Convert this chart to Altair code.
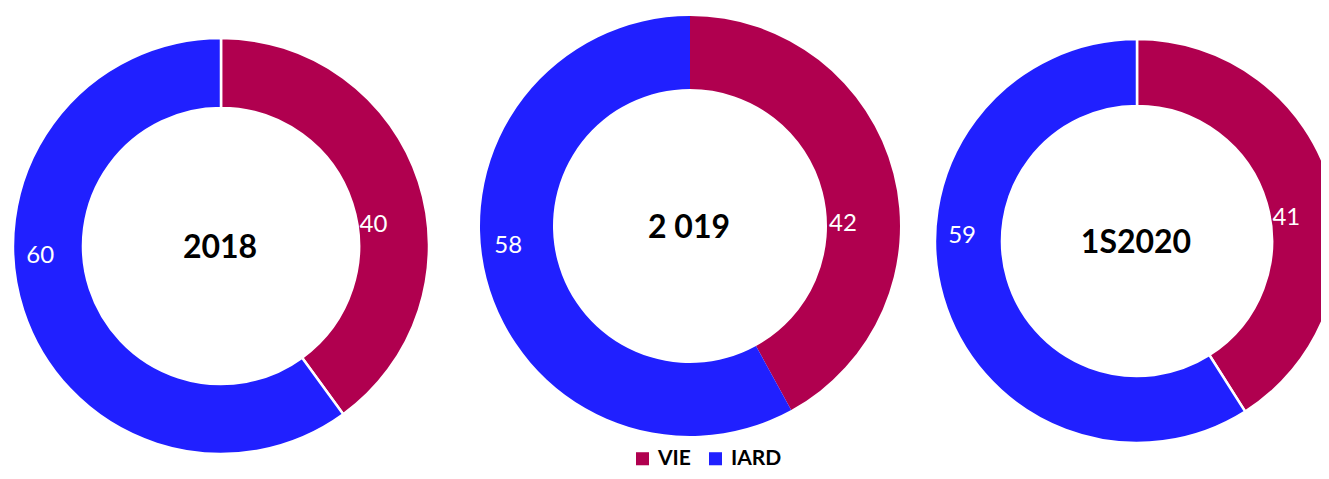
import altair as alt
import pandas as pd

years = ["2018", "2 019", "1S2020"]
categories = ["VIE", "IARD"]
vie = [40, 42, 41]
iard = [60, 58, 59]
colors = ["#B0004F", "#2020FF"]

rows = []
for y, v, i in zip(years, vie, iard):
    rows.append({"year": y, "series": "VIE", "value": v, "order": 0})
    rows.append({"year": y, "series": "IARD", "value": i, "order": 1})
df = pd.DataFrame(rows)
centers_df = pd.DataFrame({"year": years})

# layout of each donut (centre, radii, separator width, label angle shifts)
layout = [
    dict(cx=213, cy=238, outer=208, inner=138, sw=2.5, off={"VIE": 0.175, "IARD": 0.26}),
    dict(cx=682, cy=218, outer=210, inner=137, sw=0, off={"VIE": 0.237, "IARD": 0.14}),
    dict(cx=1129, cy=233, outer=202, inner=135, sw=2.5, off={"VIE": 0.133, "IARD": 0.314}),
]

color = alt.Color(
    "series:N",
    scale=alt.Scale(domain=categories, range=colors),
    sort=categories,
    legend=alt.Legend(
        title=None, orient="none", direction="horizontal",
        legendX=624, legendY=440, symbolType="square", symbolSize=170,
        symbolStrokeWidth=0, labelFont="Lato", labelFontSize=21,
        labelFontWeight="bold", labelColor="#000000", columnPadding=14,
        symbolOffset=0, labelOffset=5, padding=0,
    ),
)

theta_scale = alt.Scale(domain=[0, 100])
theta = alt.Theta("value:Q", stack=True, scale=theta_scale)

layers = []
for y, L in zip(years, layout):
    base = alt.Chart(df).transform_filter(alt.datum.year == y)
    arc = base.mark_arc(
        outerRadius=L["outer"], innerRadius=L["inner"],
        stroke="white", strokeWidth=L["sw"] if L["sw"] else 0.01,
    ).encode(
        theta=theta, color=color, order=alt.Order("order:Q"),
        x=alt.value(L["cx"]), y=alt.value(L["cy"]),
    )
    layers.append(arc)
    for s, r in (("VIE", L["inner"] + 16), ("IARD", L["outer"] - 27)):
        lab = base.transform_stack(
            stack="value", groupby=["year"], as_=["v0", "v1"],
            sort=[alt.SortField("order", order="ascending")],
        ).transform_calculate(
            mid="(datum.v0 + datum.v1) / 2"
        ).transform_filter(alt.datum.series == s).mark_text(
            thetaOffset=L["off"][s], radius=r,
            font="Lato", fontSize=24, color="white",
            align="center", baseline="middle",
        ).encode(
            theta=alt.Theta("mid:Q", scale=theta_scale, stack=None),
            text=alt.Text("value:Q"),
            x=alt.value(L["cx"]), y=alt.value(L["cy"]),
        )
        layers.append(lab)
    center = alt.Chart(centers_df).transform_filter(alt.datum.year == y).mark_text(
        font="Lato", fontSize=32, fontWeight="bold", color="black",
        align="center", baseline="middle",
    ).encode(
        text="year:N", x=alt.value(L["cx"] - 1), y=alt.value(L["cy"] + 2),
    )
    layers.append(center)

chart = alt.layer(*layers).properties(
    width=1313, height=463, padding=0, background="white",
    autosize=alt.AutoSizeParams(type="none"),
).configure_view(strokeWidth=0, stroke="transparent")

chart.save("out.html", embed_options={"renderer": "svg", "actions": False})
